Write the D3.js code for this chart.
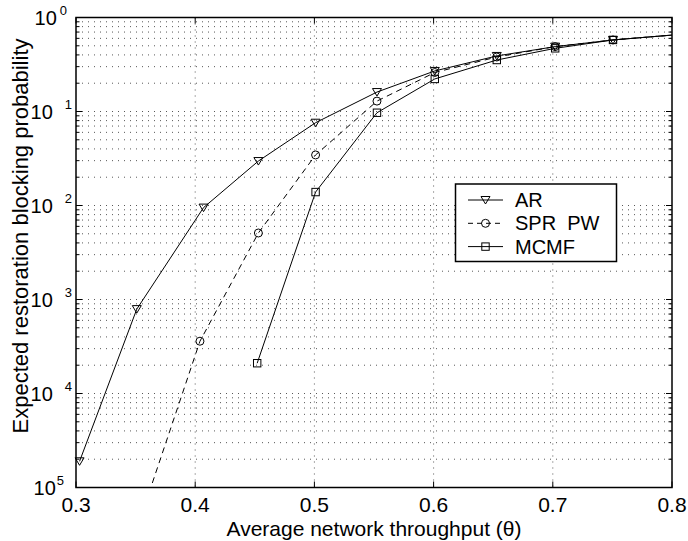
<!DOCTYPE html>
<html>
<head>
<meta charset="utf-8">
<script src="https://cdn.jsdelivr.net/npm/d3@7"></script>
<style>
  body { margin: 0; background: #fff; }
  text { font-family: "Liberation Sans", Arial, Helvetica, sans-serif; fill: #000; }
</style>
</head>
<body>
<svg id="chart" width="688" height="541"></svg>
<script>
// data
const arTheta   = [0.303, 0.351, 0.407, 0.453, 0.501, 0.5525, 0.601, 0.653, 0.702, 0.7505, 0.8];
const arValues  = [1.9e-5, 7.9e-4, 0.0095, 0.0297, 0.076, 0.161, 0.27, 0.39, 0.49, 0.577, 0.65];

const sprTheta  = [0.35, 0.404, 0.453, 0.501, 0.5525, 0.601, 0.653, 0.702, 0.7505, 0.8];
const sprValues = [3.3e-6, 3.6e-4, 0.0051, 0.0345, 0.129, 0.26, 0.38, 0.49, 0.577, 0.65];

const mcmfTheta  = [0.452, 0.501, 0.5525, 0.601, 0.653, 0.702, 0.7505, 0.8];
const mcmfValues = [2.1e-4, 0.0139, 0.097, 0.222, 0.353, 0.47, 0.577, 0.65];

const seriesNames = ["AR", "SPR  PW", "MCMF"];
const xTicks = [0.3, 0.4, 0.5, 0.6, 0.7, 0.8];
const yTicks = [1, 1e-1, 1e-2, 1e-3, 1e-4, 1e-5];
const yTickExp = ["0", "1", "2", "3", "4", "5"];  // minus signs are missing in the original
const xLabel = "Average network throughput (\u03b8)";
const yLabel = "Expected restoration blocking probability";

const svg = d3.select("#chart");
const L = 76, R = 672, T = 17.5, B = 487.5;

const x = d3.scaleLinear().domain([0.3, 0.8]).range([L, R]);
const y = d3.scaleLog().domain([1e-5, 1]).range([B, T]);

// grid
const grid = svg.append("g").attr("stroke", "#444").attr("stroke-width", 0.9)
  .attr("stroke-dasharray", "1,5");
grid.selectAll(".vg").data(xTicks.slice(1, -1)).join("line")
  .attr("x1", d => x(d)).attr("x2", d => x(d))
  .attr("y1", T).attr("y2", B);

const minor = [];
for (let k = -5; k < 0; k++) {
  for (let m = 1; m <= 9; m++) {
    const v = m * Math.pow(10, k);
    if (v > 1e-5) minor.push(v);
  }
}
grid.selectAll(".hg").data(minor).join("line")
  .attr("x1", L).attr("x2", R)
  .attr("y1", d => y(d)).attr("y2", d => y(d));

// series
svg.append("clipPath").attr("id", "plotclip")
  .append("rect").attr("x", L).attr("y", T).attr("width", R - L).attr("height", B - T);

const series = [
  { name: seriesNames[0], xs: arTheta, vs: arValues, dash: null, marker: "tri" },
  { name: seriesNames[1], xs: sprTheta, vs: sprValues, dash: "6,4.5", marker: "circ" },
  { name: seriesNames[2], xs: mcmfTheta, vs: mcmfValues, dash: null, marker: "sq" }
];

const line = d3.line().x(d => x(d[0])).y(d => y(d[1]));

function drawMarker(g, type, cx, cy) {
  if (type === "tri") {
    g.append("path")
      .attr("d", `M${cx - 4.5},${cy - 3.5}L${cx + 4.5},${cy - 3.5}L${cx},${cy + 4}Z`)
      .attr("fill", "none").attr("stroke", "#000").attr("stroke-width", 1);
  } else if (type === "circ") {
    g.append("circle").attr("cx", cx).attr("cy", cy).attr("r", 4)
      .attr("fill", "none").attr("stroke", "#000").attr("stroke-width", 1);
  } else {
    g.append("rect").attr("x", cx - 3.7).attr("y", cy - 3.7).attr("width", 7.4).attr("height", 7.4)
      .attr("fill", "none").attr("stroke", "#000").attr("stroke-width", 1);
  }
}

const plot = svg.append("g");
series.forEach(s => {
  const pts = s.xs.map((t, i) => [t, s.vs[i]]);
  plot.append("path")
    .datum(pts)
    .attr("clip-path", "url(#plotclip)")
    .attr("d", line)
    .attr("fill", "none")
    .attr("stroke", "#000")
    .attr("stroke-width", 1)
    .attr("stroke-dasharray", s.dash);
  const mg = plot.append("g");
  pts.filter(p => p[0] < 0.8 && p[1] >= 1e-5)
    .forEach(p => drawMarker(mg, s.marker, x(p[0]), y(p[1])));
});

// axes box and ticks
const ax = svg.append("g").attr("stroke", "#000");
ax.append("rect").attr("x", L).attr("y", T).attr("width", R - L).attr("height", B - T)
  .attr("fill", "none").attr("stroke-width", 1.5);

xTicks.forEach(t => {
  ax.append("line").attr("x1", x(t)).attr("x2", x(t)).attr("y1", B).attr("y2", B - 6).attr("stroke-width", 1);
  ax.append("line").attr("x1", x(t)).attr("x2", x(t)).attr("y1", T).attr("y2", T + 6).attr("stroke-width", 1);
});
minor.concat(yTicks).forEach(v => {
  const len = yTicks.includes(v) ? 6 : 3.5;
  ax.append("line").attr("x1", L).attr("x2", L + len).attr("y1", y(v)).attr("y2", y(v)).attr("stroke-width", 1);
  ax.append("line").attr("x1", R).attr("x2", R - len).attr("y1", y(v)).attr("y2", y(v)).attr("stroke-width", 1);
});

// tick labels
svg.append("g").selectAll("text").data(xTicks).join("text")
  .attr("x", d => x(d)).attr("y", 512)
  .attr("text-anchor", "middle").attr("font-size", 21)
  .text(d => d.toFixed(1));

const yl = svg.append("g");
yTicks.forEach((v, i) => {
  const right = i === 0 ? 67 : (i === 5 ? 64 : 72);
  const gap = i === 0 ? 3 : (i === 5 ? 1 : 12);
  const t = yl.append("text")
    .attr("x", right).attr("y", y(v) + 7)
    .attr("text-anchor", "end").attr("font-size", 20);
  t.append("tspan").text("10");
  t.append("tspan").attr("dx", gap).attr("dy", -10).attr("font-size", 13).text(yTickExp[i]);
});

// axis titles
svg.append("text").attr("x", (L + R) / 2).attr("y", 536)
  .attr("text-anchor", "middle").attr("font-size", 21).text(xLabel);
svg.append("text")
  .attr("transform", "translate(28,236) rotate(-90)")
  .attr("text-anchor", "middle").attr("font-size", 22).text(yLabel);

// legend
const lg = svg.append("g");
lg.append("rect").attr("x", 455.5).attr("y", 184).attr("width", 161).attr("height", 77.5)
  .attr("fill", "#fff").attr("stroke", "#000").attr("stroke-width", 1.5);
series.forEach((s, i) => {
  const ly = 200 + i * 23.3;
  lg.append("line").attr("x1", 468).attr("x2", 503).attr("y1", ly).attr("y2", ly)
    .attr("stroke", "#000").attr("stroke-width", 1).attr("stroke-dasharray", s.dash ? "5,4" : null);
  drawMarker(lg, s.marker, 485.5, ly);
  lg.append("text").attr("x", 515).attr("y", ly + 7).attr("font-size", 20)
    .style("white-space", "pre").text(s.name);
});
</script>
</body>
</html>
